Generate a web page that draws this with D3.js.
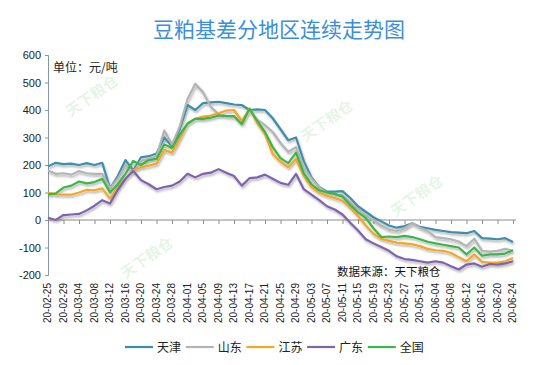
<!DOCTYPE html>
<html><head><meta charset="utf-8">
<script src="https://cdn.jsdelivr.net/npm/d3@7"></script>
<style>
html,body{margin:0;padding:0;background:#fff;}
svg{display:block;font-family:"Liberation Sans","Noto Sans CJK SC",sans-serif;}
</style></head>
<body><svg id="c" width="550" height="365"></svg>
<script>
const dates = ["2020-02-25","2020-02-27","2020-02-29","2020-03-02","2020-03-04","2020-03-06","2020-03-08","2020-03-10","2020-03-12","2020-03-14",
"2020-03-16","2020-03-18","2020-03-20","2020-03-22","2020-03-24","2020-03-26","2020-03-28","2020-03-30","2020-04-01","2020-04-03",
"2020-04-05","2020-04-07","2020-04-09","2020-04-11","2020-04-13","2020-04-15","2020-04-17","2020-04-19","2020-04-21","2020-04-23",
"2020-04-25","2020-04-27","2020-04-29","2020-05-01","2020-05-03","2020-05-05","2020-05-07","2020-05-09","2020-05-11","2020-05-13",
"2020-05-15","2020-05-17","2020-05-19","2020-05-21","2020-05-23","2020-05-25","2020-05-27","2020-05-29","2020-05-31","2020-06-02",
"2020-06-04","2020-06-06","2020-06-08","2020-06-10","2020-06-12","2020-06-14","2020-06-16","2020-06-18","2020-06-20","2020-06-22","2020-06-24"];

const tianjin = [195,208,203,205,200,207,200,208,115,160,
218,180,228,232,242,300,268,330,418,400,
425,428,430,425,420,418,400,402,400,370,
330,290,300,215,155,120,103,103,105,80,
50,30,10,-5,-20,-28,-22,-12,-25,-30,
-36,-40,-44,-46,-48,-40,-66,-68,-70,-66,-80];

const shandong = [180,168,170,165,178,170,168,168,115,150,
200,172,215,222,232,325,275,340,440,495,
465,412,385,378,375,350,400,365,345,320,
280,248,265,190,150,120,98,92,90,65,
40,18,-2,-20,-35,-40,-30,-12,-28,-40,
-62,-66,-70,-78,-95,-68,-112,-115,-112,-105,-112];

const jiangsu = [100,93,92,92,100,110,108,115,78,120,
150,182,192,198,205,255,245,295,352,368,
376,380,388,398,400,360,405,352,312,240,
212,192,222,160,120,100,88,80,70,45,
15,-20,-50,-68,-76,-82,-85,-88,-95,-105,
-110,-112,-120,-135,-150,-125,-152,-155,-155,-150,-138];

const guangdong = [8,0,18,20,22,35,52,72,60,110,
150,178,145,130,112,120,125,140,168,155,
168,172,185,172,160,125,152,155,165,150,
135,128,168,112,92,72,50,38,20,-10,
-38,-70,-85,-98,-112,-132,-142,-145,-150,-155,
-150,-155,-168,-180,-162,-158,-170,-160,-162,-158,-150];

const quanguo = [92,97,118,125,140,133,138,150,100,130,
168,215,200,218,222,275,262,310,350,368,
368,372,380,378,378,348,405,360,320,265,
225,207,245,170,130,108,100,95,85,55,
28,8,-30,-62,-60,-62,-58,-62,-70,-79,
-85,-90,-95,-100,-125,-100,-130,-125,-125,-122,-110];

const seriesNames = ["天津","山东","江苏","广东","全国"];
const seriesColors = ["#3f8ea8","#b4b4b4","#f5a623","#7d64ad","#3db54a"];
const seriesValues = [tianjin, shandong, jiangsu, guangdong, quanguo];

const yTicks = [600,500,400,300,200,100,0,-100,-200];
const xTickDates = ["2020-02-25","2020-02-29","2020-03-04","2020-03-08","2020-03-12","2020-03-16","2020-03-20","2020-03-24","2020-03-28",
"2020-04-01","2020-04-05","2020-04-09","2020-04-13","2020-04-17","2020-04-21","2020-04-25","2020-04-29","2020-05-03","2020-05-07",
"2020-05-11","2020-05-15","2020-05-19","2020-05-23","2020-05-27","2020-05-31","2020-06-04","2020-06-08","2020-06-12","2020-06-16",
"2020-06-20","2020-06-24"];
const xTickLabels = ["20-02-25","20-02-29","20-03-04","20-03-08","20-03-12","20-03-16","20-03-20","20-03-24","20-03-28",
"20-04-01","20-04-05","20-04-09","20-04-13","20-04-17","20-04-21","20-04-25","20-04-29","20-05-03","20-05-07",
"20-05-11","20-05-15","20-05-19","20-05-23","20-05-27","20-05-31","20-06-04","20-06-08","20-06-12","20-06-16",
"20-06-20","20-06-24"];

const titleText = "豆粕基差分地区连续走势图";
const unitText = "单位：元/吨";
const sourceText = "数据来源：天下粮仓";

const parse = d3.utcParse("%Y-%m-%d");
const svg = d3.select("#c");

const x = d3.scaleUtc().domain([parse(dates[0]), parse(dates[dates.length-1])]).range([48, 513]);
const y = d3.scaleLinear().domain([-200, 600]).range([275, 55]);

// filter for soft shadow
const defs = svg.append("defs");
const f = defs.append("filter").attr("id","sh").attr("x","-10%").attr("y","-10%").attr("width","120%").attr("height","130%");
f.append("feDropShadow").attr("dx",1).attr("dy",2).attr("stdDeviation",1.3).attr("flood-opacity",0.3);

// watermarks
const wm = [[95,100],[330,125],[150,262],[420,200]];
svg.append("g").selectAll("text").data(wm).join("text")
  .attr("transform", d => `translate(${d[0]},${d[1]}) rotate(-35)`)
  .attr("text-anchor","middle")
  .style("font-family","Noto Sans CJK SC")
  .style("font-size","15px").style("font-weight","bold")
  .attr("fill","#9fd7a8").attr("opacity",0.25)
  .text("天下粮仓");

// title
svg.append("text").attr("x",279).attr("y",37).attr("text-anchor","middle")
  .style("font-family","Noto Sans CJK SC").style("font-size","21px")
  .attr("fill","#3b8fd8").text(titleText);

// y axis
const yAxis = d3.axisLeft(y).tickValues(yTicks).tickSize(3).tickFormat(d => String(d));
const gy = svg.append("g").attr("transform","translate(48,0)").call(yAxis);
gy.select(".domain").attr("stroke","#8496a8");
gy.selectAll(".tick line").attr("stroke","#8496a8");
gy.selectAll(".tick text").attr("x",-7).style("font-size","11px").style("font-family","Liberation Sans").attr("fill","#222");

// x axis at zero
const xAxis = d3.axisBottom(x).tickValues(xTickDates.map(parse)).tickSize(4).tickFormat("");
const gx = svg.append("g").attr("transform",`translate(0,${y(0)})`).call(xAxis);
gx.select(".domain").attr("stroke","#8c8c8c").attr("d", `M48,0H516`);
gx.selectAll(".tick line").attr("stroke","#8c8c8c");

// x labels at bottom
svg.append("g").selectAll("text").data(xTickDates).join("text")
  .attr("transform", d => `translate(${x(parse(d))+3},283) rotate(-90)`)
  .attr("text-anchor","end")
  .style("font-size","10px").style("font-family","Liberation Sans").attr("fill","#222")
  .text((d,i) => xTickLabels[i]);

// unit label
svg.append("text").attr("x",53).attr("y",72)
  .style("font-family","Noto Sans CJK SC").style("font-size","12px").attr("fill","#222").text(unitText);

// lines
const line = d3.line().x((d,i) => x(parse(dates[i]))).y(d => y(d));
const gl = svg.append("g").attr("filter","url(#sh)");
seriesValues.forEach((vals, k) => {
  gl.append("path").datum(vals).attr("d", line).attr("fill","none")
    .attr("stroke", seriesColors[k]).attr("stroke-width",2.2).attr("stroke-linejoin","round");
});

// source
svg.append("text").attr("x",337).attr("y",276)
  .style("font-family","Noto Sans CJK SC").style("font-size","11.5px").attr("fill","#111").text(sourceText);

// legend
const lg = svg.append("g").attr("transform","translate(125,347)");
const items = lg.selectAll("g").data(seriesNames).join("g").attr("transform",(d,i)=>`translate(${i*60.7},0)`);
items.append("line").attr("x1",0).attr("x2",28).attr("y1",0).attr("y2",0)
  .attr("stroke",(d,i)=>seriesColors[i]).attr("stroke-width",2.2);
items.append("text").attr("x",32).attr("y",4.5)
  .style("font-family","Noto Sans CJK SC").style("font-size","12px").attr("fill","#222").text(d=>d);
</script>
</body></html>
